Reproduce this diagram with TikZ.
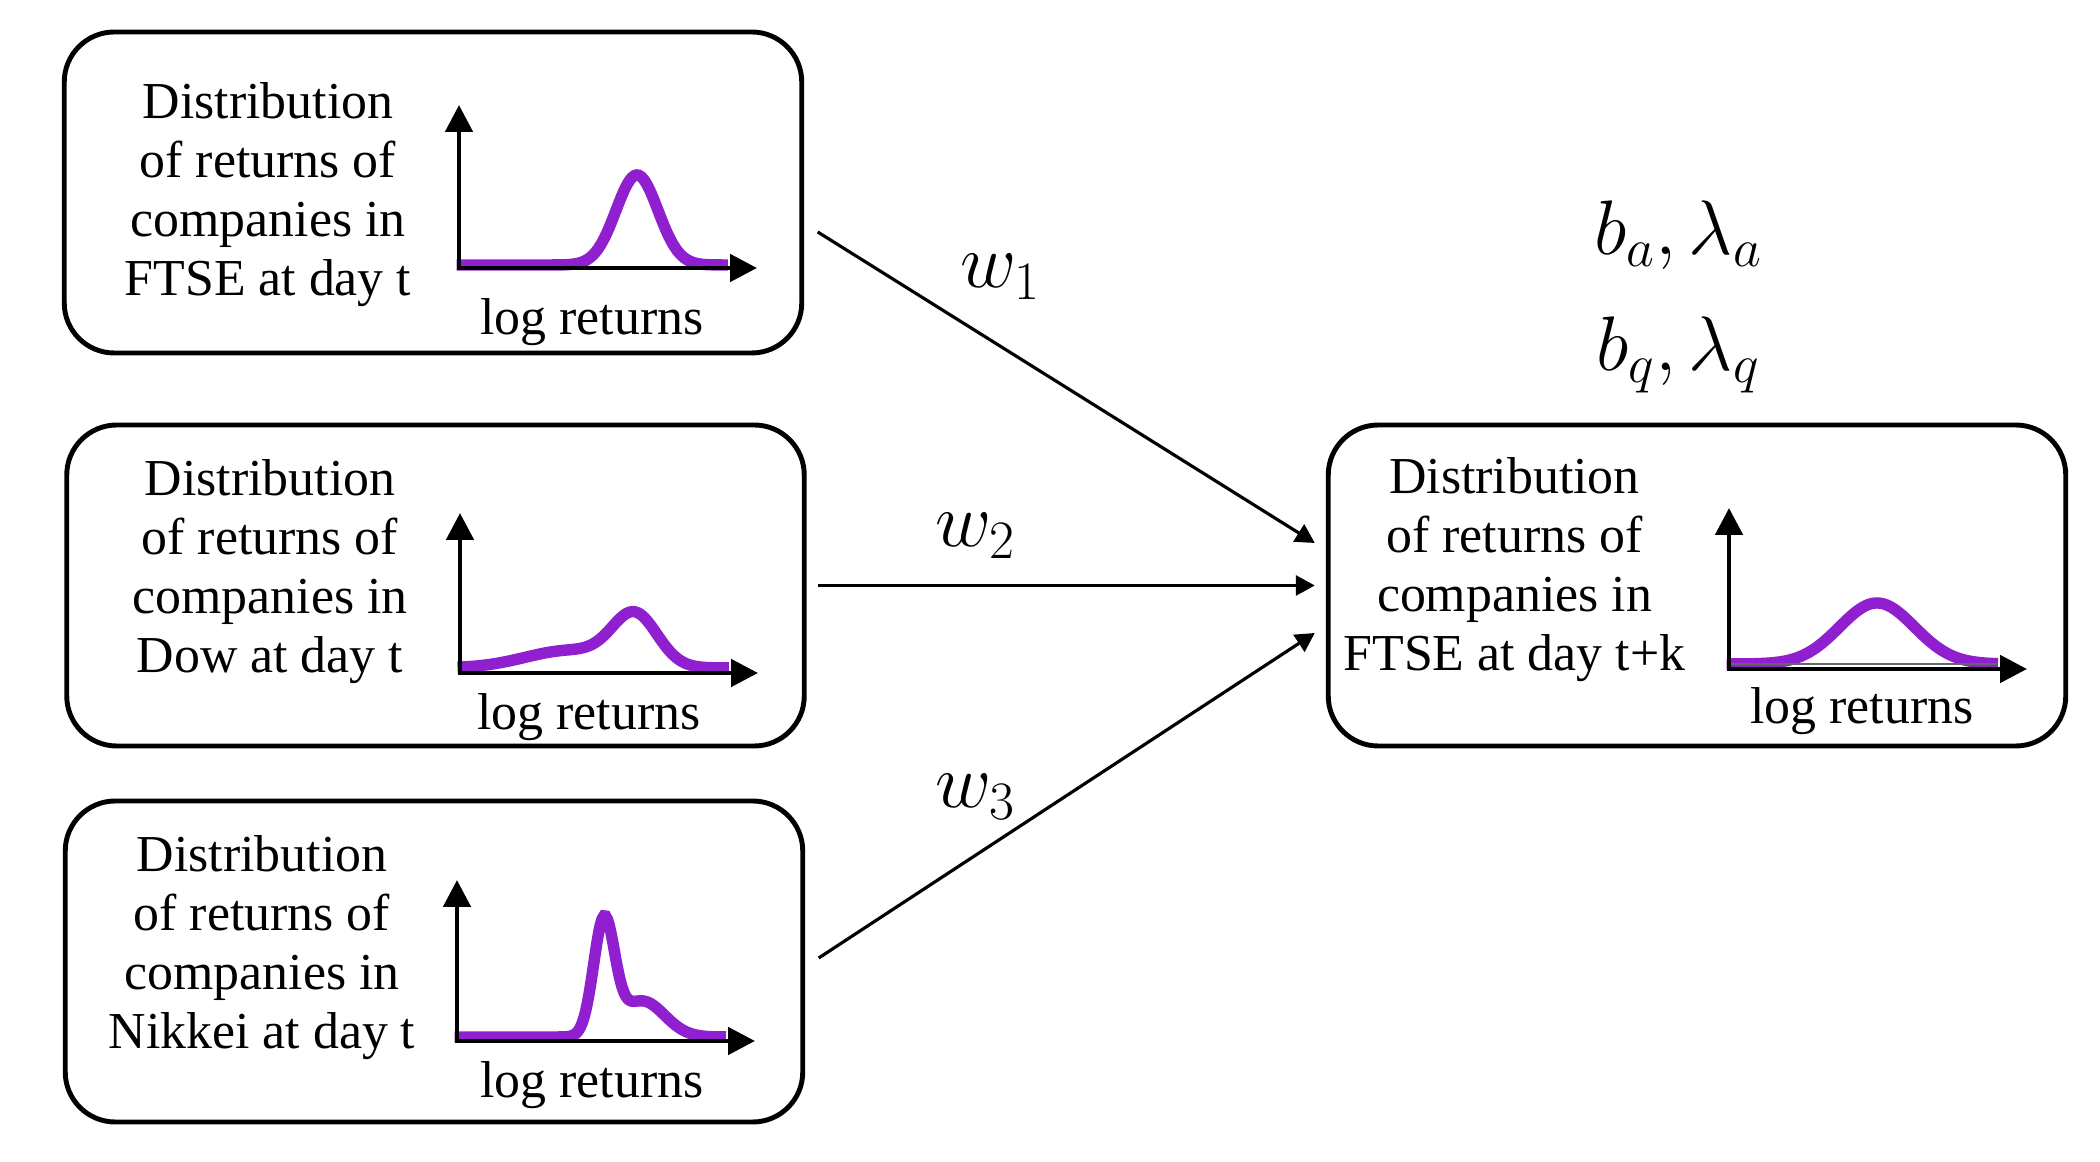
\RequirePackage{fix-cm}
\documentclass[tikz,border=0pt]{standalone}
\usepackage[no-math]{fontspec}
\setmainfont{Liberation Serif}
\usetikzlibrary{arrows.meta}
\definecolor{curvepurple}{RGB}{143,31,207}

\begin{document}
\begin{tikzpicture}[
  panel/.style={draw, line width=2.8pt, rounded corners=1cm, minimum width=14.75cm, minimum height=6.42cm, inner sep=0pt},
  desc/.style={align=center, inner sep=0pt, font=\fontsize{29.5}{33.6}\selectfont},
  axlbl/.style={anchor=base, inner sep=0pt, font=\fontsize{29.5}{33.6}\selectfont},
  axes/.style={line width=2.8pt, {Triangle[length=0.54cm,width=0.54cm]}-{Triangle[length=0.54cm,width=0.54cm]}},
  density/.style={curvepurple, line width=6.5pt},
  weight/.style={line width=1.8pt, -{Triangle[length=0.38cm,width=0.4cm]}},
  mlbl/.style={anchor=base, inner sep=0pt, font=\fontsize{44}{52}\selectfont}
]
\useasboundingbox (0,0) rectangle (42,23.24);

\node[panel] (ftsebox) at (8.66,19.39) {};
\node[panel] (dowbox) at (8.71,11.53) {};
\node[panel] (nikkeibox) at (8.68,4.01) {};
\node[panel] (targetbox) at (33.94,11.53) {};

\node[desc] (ftsetext) at (5.36,19.35) {Distribution\\of returns of\\companies in\\FTSE at day t};
\node[desc] (dowtext) at (5.4,11.81) {Distribution\\of returns of\\companies in\\Dow at day t};
\node[desc] (nikkeitext) at (5.24,4.28) {Distribution\\of returns of\\companies in\\Nikkei at day t};
\node[desc] (targettext) at (30.29,11.84) {Distribution\\of returns of\\companies in\\FTSE at day t+k};

\begin{scope}[shift={(9.18,17.88)}]
\draw[density] plot[domain=-0.05:5.38,samples=120] (\x,{0.06+1.8*exp(-((\x-3.56)*(\x-3.56))/0.353)});
\draw[axes] (0,3.26) -- (0,0) -- (5.96,0);
\node[axlbl] (ftseaxis) at (2.66,-1.34) {log returns};
\end{scope}

\begin{scope}[shift={(9.2,9.78)}]
\draw[density] plot[domain=-0.05:5.38,samples=120] (\x,{0.1+0.35*exp(-((\x-2.2)*(\x-2.2))/1.62)+1.0*exp(-((\x-3.5)*(\x-3.5))/0.405)});
\draw[axes] (0,3.2) -- (0,0) -- (5.96,0);
\node[axlbl] (dowaxis) at (2.58,-1.14) {log returns};
\end{scope}

\begin{scope}[shift={(9.14,2.42)}]
\draw[density] plot[domain=-0.05:5.38,samples=150] (\x,{0.08+2.25*exp(-((\x-2.94)*(\x-2.94))/0.088)+0.72*exp(-((\x-3.7)*(\x-3.7))/0.405)});
\draw[axes] (0,3.22) -- (0,0) -- (5.96,0);
\node[axlbl] (nikkeiaxis) at (2.7,-1.14) {log returns};
\end{scope}

\begin{scope}[shift={(34.58,9.86)}]
\draw[density] plot[domain=-0.05:5.38,samples=120] (\x,{0.1+1.22*exp(-((\x-2.96)*(\x-2.96))/1.125)});
\draw[gray!80!black, line width=0.6pt] (0,0.1) -- (5.38,0.1);
\draw[axes] (0,3.22) -- (0,0) -- (5.96,0);
\node[axlbl] (targetaxis) at (2.66,-1.1) {log returns};
\end{scope}

\draw[weight] ([xshift=0.27cm,yshift=-0.79cm]ftsebox.east) -- ([xshift=-0.22cm,yshift=0.85cm]targetbox.west);
\draw[weight] ([xshift=0.23cm]dowbox.east) -- ([xshift=-0.22cm]targetbox.west);
\draw[weight] ([xshift=0.27cm,yshift=0.07cm]nikkeibox.east) -- ([xshift=-0.22cm,yshift=-0.95cm]targetbox.west);

\node[mlbl] (wone) at (20.0,17.48) {$w_1$};
\node[mlbl] (wtwo) at (19.5,12.3) {$w_2$};
\node[mlbl] (wthree) at (19.5,7.08) {$w_3$};
\node[mlbl] (aparams) at (33.56,18.14) {$b_a, \lambda_a$};
\node[mlbl] (qparams) at (33.56,15.82) {$b_q, \lambda_q$};
\end{tikzpicture}
\end{document}
